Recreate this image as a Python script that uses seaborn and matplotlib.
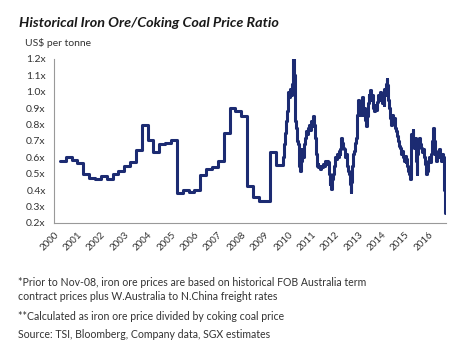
import numpy as np
import pandas as pd
import matplotlib
import matplotlib.pyplot as plt
import seaborn as sns

matplotlib.use('Agg')

# quarterly ratios (Q2 2000 .. Q3 2009)
quarter_values = [0.58, 0.603, 0.587, 0.563, 0.50, 0.477, 0.469, 0.487, 0.469, 0.497,
                  0.52, 0.546, 0.573, 0.644, 0.80, 0.709, 0.634, 0.68, 0.689, 0.705,
                  0.385, 0.40, 0.39, 0.40, 0.495, 0.532, 0.542, 0.579, 0.75, 0.899,
                  0.88, 0.855, 0.427, 0.36, 0.336, 0.336, 0.631, 0.554]

# spot based ratios, decimal years
spot_years = [2009.75, 2009.78, 2009.82, 2009.86, 2009.90, 2009.94, 2009.98, 2010.02, 2010.06, 2010.10,
              2010.14, 2010.18, 2010.21, 2010.23, 2010.25, 2010.28, 2010.31, 2010.34, 2010.37, 2010.40,
              2010.43, 2010.46, 2010.49, 2010.52, 2010.55, 2010.58, 2010.61, 2010.64, 2010.67, 2010.70,
              2010.74, 2010.78, 2010.82, 2010.86, 2010.90, 2010.94, 2010.98, 2011.02, 2011.06, 2011.10,
              2011.14, 2011.18, 2011.22, 2011.26, 2011.30, 2011.34, 2011.38, 2011.42, 2011.46, 2011.50,
              2011.54, 2011.58, 2011.62, 2011.66, 2011.70, 2011.74, 2011.78, 2011.81, 2011.84, 2011.88,
              2011.92, 2011.96, 2012.00, 2012.04, 2012.08, 2012.12, 2012.16, 2012.20, 2012.24, 2012.28,
              2012.31, 2012.34, 2012.38, 2012.42, 2012.46, 2012.50, 2012.54, 2012.58, 2012.62, 2012.65,
              2012.68, 2012.71, 2012.74, 2012.77, 2012.81, 2012.85, 2012.89, 2012.93, 2012.96, 2012.99,
              2013.02, 2013.05, 2013.08, 2013.11, 2013.14, 2013.17, 2013.20, 2013.24, 2013.28, 2013.32,
              2013.36, 2013.40, 2013.44, 2013.48, 2013.52, 2013.56, 2013.60, 2013.64, 2013.68, 2013.72,
              2013.76, 2013.80, 2013.84, 2013.88, 2013.92, 2013.96, 2014.00, 2014.04, 2014.08, 2014.12,
              2014.16, 2014.19, 2014.22, 2014.25, 2014.28, 2014.32, 2014.36, 2014.40, 2014.43, 2014.46,
              2014.50, 2014.54, 2014.58, 2014.62, 2014.66, 2014.70, 2014.74, 2014.78, 2014.82, 2014.86,
              2014.90, 2014.94, 2014.98, 2015.02, 2015.06, 2015.10, 2015.14, 2015.18, 2015.21, 2015.24,
              2015.27, 2015.30, 2015.33, 2015.36, 2015.39, 2015.42, 2015.46, 2015.49, 2015.52, 2015.56,
              2015.60, 2015.64, 2015.68, 2015.72, 2015.76, 2015.80, 2015.84, 2015.88, 2015.92, 2015.96,
              2016.00, 2016.04, 2016.08, 2016.12, 2016.16, 2016.20, 2016.23, 2016.26, 2016.30, 2016.34,
              2016.38, 2016.42, 2016.46, 2016.50, 2016.54, 2016.58, 2016.62, 2016.65, 2016.67, 2016.70]
spot_values = [0.554, 0.60, 0.68, 0.75, 0.82, 0.88, 0.95, 1.00, 0.97, 1.02,
               0.98, 1.05, 1.15, 1.20, 1.10, 0.90, 0.82, 0.78, 0.76, 0.70,
               0.68, 0.60, 0.55, 0.52, 0.58, 0.65, 0.62, 0.60, 0.63, 0.68,
               0.72, 0.76, 0.74, 0.78, 0.80, 0.77, 0.82, 0.79, 0.85, 0.80,
               0.72, 0.62, 0.55, 0.56, 0.54, 0.55, 0.53, 0.55, 0.54, 0.56,
               0.55, 0.58, 0.56, 0.58, 0.57, 0.50, 0.44, 0.48, 0.41, 0.47,
               0.50, 0.55, 0.60, 0.59, 0.62, 0.60, 0.64, 0.62, 0.65, 0.72,
               0.69, 0.66, 0.65, 0.60, 0.62, 0.57, 0.55, 0.52, 0.50, 0.44,
               0.39, 0.45, 0.55, 0.62, 0.64, 0.69, 0.72, 0.78, 0.86, 0.95,
               0.88, 0.92, 0.86, 0.93, 0.88, 0.97, 0.86, 0.90, 0.83, 0.79,
               0.85, 0.93, 0.98, 0.96, 1.01, 0.95, 0.98, 0.90, 0.88, 0.92,
               0.89, 0.94, 0.98, 0.95, 1.00, 0.97, 0.93, 0.96, 0.92, 1.02,
               0.98, 1.05, 1.08, 1.04, 0.95, 0.90, 0.84, 0.80, 0.83, 0.86,
               0.82, 0.84, 0.78, 0.76, 0.73, 0.70, 0.67, 0.66, 0.62, 0.64,
               0.60, 0.58, 0.61, 0.57, 0.59, 0.55, 0.52, 0.50, 0.47, 0.62,
               0.74, 0.72, 0.77, 0.70, 0.66, 0.72, 0.58, 0.50, 0.62, 0.68,
               0.72, 0.68, 0.66, 0.63, 0.65, 0.60, 0.56, 0.50, 0.52, 0.55,
               0.58, 0.60, 0.57, 0.62, 0.70, 0.78, 0.70, 0.62, 0.64, 0.58,
               0.63, 0.60, 0.65, 0.60, 0.58, 0.62, 0.60, 0.55, 0.40, 0.26]

year_labels = [str(y) for y in range(2000, 2017)]
y_ticks = [0.2, 0.3, 0.4, 0.5, 0.6, 0.7, 0.8, 0.9, 1.0, 1.1, 1.2]

title = "Historical Iron Ore/Coking Coal Price Ratio"
unit = "US$ per tonne"
notes = ["*Prior to Nov-08, iron ore prices are based on historical FOB Australia term",
         "contract prices plus W.Australia to N.China freight rates",
         "**Calculated as iron ore price divided by coking coal price",
         "Source: TSI, Bloomberg, Company data, SGX estimates"]

quarter_years = [2000.25 + 0.25 * i for i in range(len(quarter_values))]
df = pd.DataFrame({'year': quarter_years + spot_years,
                   'ratio': quarter_values + spot_values})

sns.set_style('white')
plt.rcParams['font.family'] = ['Lato', 'DejaVu Sans']

fig = plt.figure(figsize=(4.71, 3.58), dpi=100)
ax = fig.add_axes([54 / 471, 1 - 223 / 358, (446 - 54) / 471, (223 - 59) / 358])

sns.lineplot(data=df, x='year', y='ratio', ax=ax, color='#1c2b72',
             linewidth=2.2, drawstyle='steps-post')

ax.set_xlim(2000, 2016.75)
ax.set_ylim(0.2, 1.2)
ax.set_xticks(range(2000, 2017))
ax.set_xticklabels(year_labels, rotation=45, ha='right', rotation_mode='anchor',
                   fontsize=7, color='#333333')
ax.set_yticks(y_ticks)
ax.set_yticklabels([f"{v:.1f}x" for v in y_ticks], fontsize=7.5, color='#333333')
ax.set_xlabel('')
ax.set_ylabel('')

for side in ['top', 'right']:
    ax.spines[side].set_visible(False)
for side in ['left', 'bottom']:
    ax.spines[side].set_color('#999999')
    ax.spines[side].set_linewidth(0.8)
ax.tick_params(axis='both', direction='out', length=3, width=0.8, color='#999999', pad=2)
ax.tick_params(axis='y', pad=3)

fig.text(19 / 471, 1 - 23 / 358, title, fontsize=10.4, fontweight='bold', fontstyle='italic',
         color='#1a1a1a', va='center', ha='left')
fig.text(25 / 471, 1 - 43 / 358, unit, fontsize=7.5, color='#333333', va='center', ha='left')

for text, ypix in zip(notes, [283, 297, 316, 335]):
    fig.text(18 / 471, 1 - ypix / 358, text, fontsize=7.6, color='#333333', va='center', ha='left')

fig.savefig('out.png', dpi=100)
